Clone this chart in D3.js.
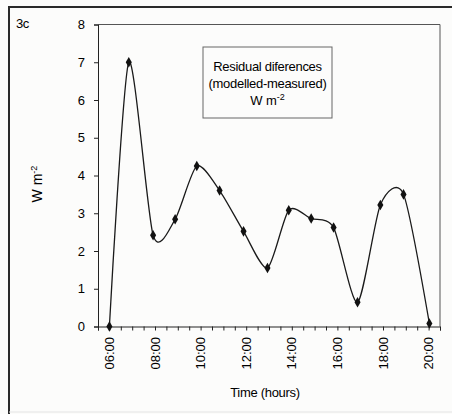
<!DOCTYPE html>
<html><head><meta charset="utf-8">
<script src="https://cdn.jsdelivr.net/npm/d3@7"></script>
<style>
html,body{margin:0;padding:0;background:#fcfcfb;}
svg{display:block;font-family:"Liberation Sans",Arial,sans-serif;}
</style></head>
<body>
<script>
// Data
const times = ["06:00","06:51","07:55","08:53","09:50","10:50","11:53","12:56","13:52","14:51","15:50","16:53","17:53","18:54","20:02"];
const residuals = [0, 7.0, 2.42, 2.84, 4.25, 3.6, 2.52, 1.55, 3.08, 2.86, 2.62, 0.64, 3.22, 3.5, 0.08];
const yTicks = [0,1,2,3,4,5,6,7,8];
const xLabelTimes = ["06:00","08:00","10:00","12:00","14:00","16:00","18:00","20:00"];
const legendLines = ["Residual diferences","(modelled-measured)"];
const panelLabel = "3c";
const xTitle = "Time (hours)";

(function(){
const W = 452, H = 414;
const parse = d3.timeParse("%H:%M");
const data = times.map((t,i)=>({t:parse(t), v:residuals[i]}));

const svg = d3.select("body").append("svg").attr("width",W).attr("height",H);
svg.append("rect").attr("width",W).attr("height",H).attr("fill","#fcfcfb");

// outer frame
svg.append("path").attr("d","M9,414 L9,7 L452,7").attr("fill","none").attr("stroke","#2a2a2a").attr("stroke-width",2);
svg.append("line").attr("x1",9).attr("x2",452).attr("y1",412).attr("y2",412).attr("stroke","#e4e4e4").attr("stroke-width",1);

const pL = 98, pR = 440, pT = 24.5, pB = 326.5;
const x = d3.scaleTime().domain([parse("05:30"), parse("20:30")]).range([pL, pR]);
const y = d3.scaleLinear().domain([0,8]).range([pB, pT]);

// plot area border (top/right)
svg.append("path").attr("d",`M${pL},${pT} L${pR},${pT} L${pR},${pB}`)
  .attr("fill","none").attr("stroke","#555").attr("stroke-width",1);

// y axis
const ya = svg.append("g").attr("transform",`translate(${pL},0)`)
  .call(d3.axisLeft(y).tickValues(yTicks).tickSize(4).tickPadding(9).tickFormat(d3.format("d")));
ya.selectAll("path,line").attr("stroke","#222");
ya.selectAll("text").attr("font-size",13).attr("fill","#000").attr("font-family","Liberation Sans, Arial, sans-serif");

// x axis (minor ticks every 30 min)
const xa = svg.append("g").attr("transform",`translate(0,${pB})`)
  .call(d3.axisBottom(x).ticks(d3.timeMinute.every(30)).tickSize(4).tickFormat(""));
xa.selectAll("path,line").attr("stroke","#222");

// x labels rotated
svg.append("g").selectAll("text").data(xLabelTimes).join("text")
  .attr("transform", d=>`translate(${x(parse(d))+4.5},337) rotate(-90)`)
  .attr("text-anchor","end")
  .attr("font-size",13).attr("fill","#000")
  .text(d=>d);

// line
const line = d3.line().x(d=>x(d.t)).y(d=>y(d.v)).curve(d3.curveCardinal.tension(0.25));
svg.append("path").datum(data).attr("d",line).attr("fill","none").attr("stroke","#1a1a1a").attr("stroke-width",1.3);

// markers
svg.append("g").selectAll("path").data(data).join("path")
  .attr("transform",d=>`translate(${x(d.t)},${y(d.v)})`)
  .attr("d",d3.symbol(d3.symbolDiamond,32))
  .attr("fill","#111");

// legend box
svg.append("rect").attr("x",203).attr("y",47).attr("width",129).attr("height",71)
  .attr("fill","#fcfcfb").attr("stroke","#666").attr("stroke-width",1);
const lg = svg.append("g").attr("font-size",13).attr("fill","#000").attr("text-anchor","middle");
lg.selectAll("text.l").data(legendLines).join("text").attr("class","l")
  .attr("x",267.5).attr("y",(d,i)=>71+i*17).attr("letter-spacing",-0.3).text(d=>d);
const u = lg.append("text").attr("x",267.5).attr("y",105);
u.append("tspan").text("W m");
u.append("tspan").attr("dy",-5).attr("font-size",9).text("-2");

// y title
const yt = svg.append("text").attr("transform","translate(42,184) rotate(-90)")
  .attr("text-anchor","middle").attr("font-size",14).attr("fill","#000");
yt.append("tspan").text("W m");
yt.append("tspan").attr("dy",-5).attr("font-size",9).text("-2");

// panel label
svg.append("text").attr("x",16).attr("y",28).attr("font-size",13).attr("fill","#000").attr("letter-spacing",-0.5).text(panelLabel);

// x title
svg.append("text").attr("x",265).attr("y",397).attr("text-anchor","middle").attr("font-size",13).attr("fill","#000").attr("letter-spacing",-0.3).text(xTitle);
})();
</script>
</body></html>
